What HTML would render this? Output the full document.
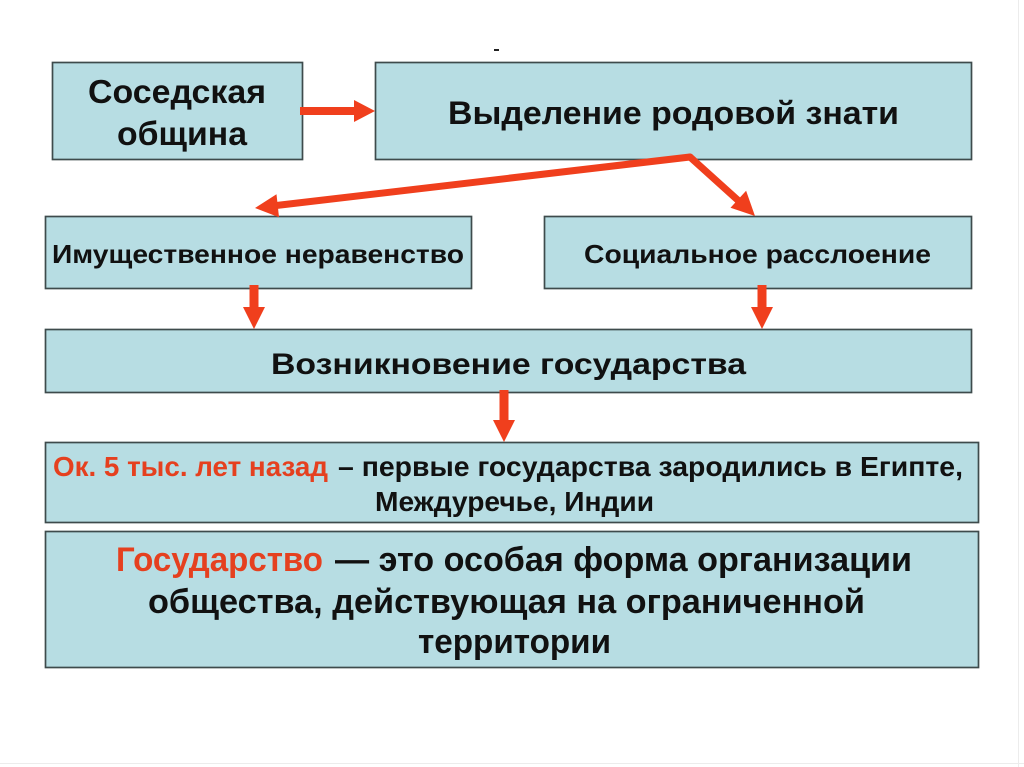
<!DOCTYPE html>
<html>
<head>
<meta charset="utf-8">
<style>
  html, body { margin: 0; padding: 0; background: #ffffff; }
  body { width: 1024px; height: 767px; overflow: hidden; }
  svg { display: block; }
  text { font-family: "Liberation Sans", Arial, sans-serif; font-weight: bold; }
</style>
</head>
<body>
<svg width="1024" height="767" viewBox="0 0 1024 767" xmlns="http://www.w3.org/2000/svg">
  <rect x="0" y="0" width="1024" height="767" fill="#ffffff"/>
  <!-- faint slide frame -->
  <line x1="1018.5" y1="0" x2="1018.5" y2="767" stroke="#ececec" stroke-width="1"/>
  <line x1="0" y1="763.5" x2="1024" y2="763.5" stroke="#ececec" stroke-width="1"/>

  <!-- small dash -->
  <rect x="494" y="49" width="5" height="2" fill="#222"/>

  <g fill="#b7dde3" stroke="#3e4b4c" stroke-width="1.7">
    <rect x="52.5" y="62.5" width="250" height="97"/>
    <rect x="375.5" y="62.5" width="596" height="97"/>
    <rect x="45.5" y="216.5" width="426" height="72"/>
    <rect x="544.5" y="216.5" width="427" height="72"/>
    <rect x="45.5" y="329.5" width="926" height="63"/>
    <rect x="45.5" y="442.5" width="933" height="80"/>
    <rect x="45.5" y="531.5" width="933" height="136"/>
  </g>

  <!-- arrows -->
  <g fill="#f03f1d" stroke="none">
    <!-- box1 -> box2 -->
    <rect x="300" y="107" width="56" height="8"/>
    <polygon points="354,100 375,111 354,122"/>
    <!-- left down -->
    <rect x="249.5" y="285" width="9" height="24"/>
    <polygon points="243,307 265,307 254,329"/>
    <!-- right down -->
    <rect x="757.5" y="285" width="9" height="24"/>
    <polygon points="751,307 773,307 762,329"/>
    <!-- middle down -->
    <rect x="499.5" y="390" width="9" height="32"/>
    <polygon points="493,420 515,420 504,442"/>
  </g>
  <!-- diagonal arrows -->
  <g stroke="#f03f1d" stroke-width="7" stroke-linecap="round" fill="none">
    <line x1="690" y1="157" x2="272" y2="206"/>
    <line x1="690" y1="157" x2="741" y2="203"/>
  </g>
  <g fill="#f03f1d">
    <polygon points="255,208 276.5,194.3 279.0,217.2"/>
    <polygon points="755,216 730.5,207.8 746.1,190.7"/>
  </g>

  <!-- texts -->
  <g fill="#111111">
    <text x="88" y="103" font-size="33" textLength="178" lengthAdjust="spacingAndGlyphs">Соседская</text>
    <text x="117" y="145" font-size="33" textLength="130" lengthAdjust="spacingAndGlyphs">община</text>

    <text x="448" y="124" font-size="32" textLength="451" lengthAdjust="spacingAndGlyphs">Выделение родовой знати</text>

    <text x="52" y="263" font-size="26" textLength="412" lengthAdjust="spacingAndGlyphs">Имущественное неравенство</text>
    <text x="584" y="263" font-size="26" textLength="347" lengthAdjust="spacingAndGlyphs">Социальное расслоение</text>

    <text x="271" y="374" font-size="30" textLength="475" lengthAdjust="spacingAndGlyphs">Возникновение государства</text>

    <text x="53" y="476" font-size="28" fill="#e5401f" textLength="275" lengthAdjust="spacingAndGlyphs">Ок. 5 тыс. лет назад</text>
    <text x="338" y="476" font-size="28" textLength="625" lengthAdjust="spacingAndGlyphs">– первые государства зародились в Египте,</text>
    <text x="375" y="511" font-size="28" textLength="279" lengthAdjust="spacingAndGlyphs">Междуречье, Индии</text>

    <text x="116" y="571" font-size="34" fill="#e5401f" textLength="207" lengthAdjust="spacingAndGlyphs">Государство</text>
    <text x="335" y="571" font-size="34" textLength="577" lengthAdjust="spacingAndGlyphs">— это особая форма организации</text>
    <text x="148" y="613" font-size="34" textLength="717" lengthAdjust="spacingAndGlyphs">общества, действующая на ограниченной</text>
    <text x="418" y="653" font-size="34" textLength="193" lengthAdjust="spacingAndGlyphs">территории</text>
  </g>
</svg>
</body>
</html>
